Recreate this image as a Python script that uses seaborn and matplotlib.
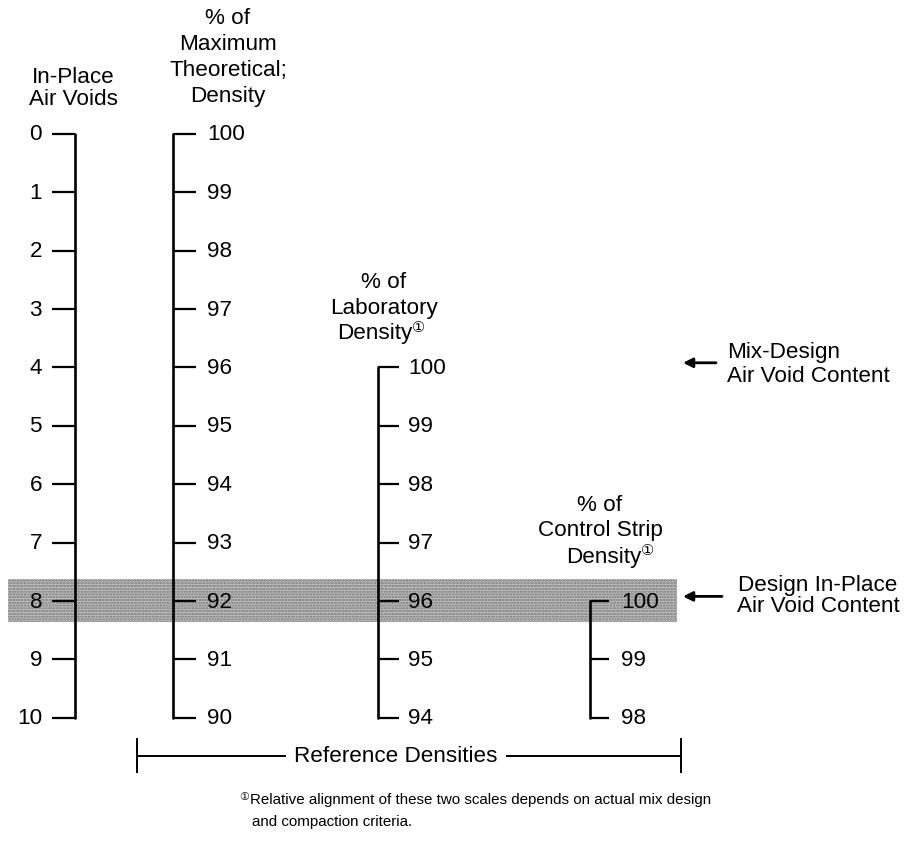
import matplotlib
matplotlib.use("Agg")
import matplotlib.pyplot as plt
import seaborn as sns
import pandas as pd

# scale values
air_voids = [0, 1, 2, 3, 4, 5, 6, 7, 8, 9, 10]
max_theoretical = [100, 99, 98, 97, 96, 95, 94, 93, 92, 91, 90]
laboratory = [100, 99, 98, 97, 96, 95, 94]
control_strip = [100, 99, 98]
mix_design_voids = 4
design_voids = 8

sns.set_theme(style="white")
plt.rcParams["font.family"] = ["Liberation Sans", "DejaVu Sans", "Noto Sans CJK JP"]
plt.rcParams["text.color"] = "black"
plt.rcParams["hatch.linewidth"] = 1.2

# every scale expressed as in-place air voids (y axis)
scales = pd.concat([
    pd.DataFrame({"scale": "air", "value": air_voids, "voids": air_voids}),
    pd.DataFrame({"scale": "mtd", "value": max_theoretical,
                  "voids": [100 - v for v in max_theoretical]}),
    pd.DataFrame({"scale": "lab", "value": laboratory,
                  "voids": [mix_design_voids + 100 - v for v in laboratory]}),
    pd.DataFrame({"scale": "strip", "value": control_strip,
                  "voids": [design_voids + 100 - v for v in control_strip]}),
])

# x layout: line, tick end, label x, label alignment
layout = {
    "air": (75, 52, 42, "right"),
    "mtd": (173, 196, 207, "left"),
    "lab": (378, 399, 408, "left"),
    "strip": (590, 609, 621, "left"),
}

fig = plt.figure(figsize=(9.05, 8.45), dpi=100)
ax = fig.add_axes([0, 0, 1, 1])
ax.set_xlim(0, 905)
ax.set_ylim(12.16, -2.31)
ax.axis("off")

FS = 16.2

# design in-place band
ax.axhspan(design_voids - 0.37, design_voids + 0.36, xmin=8 / 905, xmax=677 / 905,
           facecolor="#c8c8c8", edgecolor="#6e6e6e", hatch="......", lw=0, zorder=0)

for name, (xl, xt, xlab, ha) in layout.items():
    sub = scales[scales.scale == name].copy()
    sub["x"] = xl
    sns.lineplot(data=sub, x="x", y="voids", orient="y", estimator=None,
                 color="black", lw=1.9, ax=ax)
    ax.hlines(sub.voids, min(xl, xt), max(xl, xt), color="black", lw=1.6)
    for v, y in zip(sub.value, sub.voids):
        ax.text(xlab, y, str(v), ha=ha, va="center", fontsize=FS)

# headers
hdr = dict(ha="center", va="center", fontsize=FS)
ax.text(73, -0.99, "In-Place", **hdr)
ax.text(73, -0.60, "Air Voids", **hdr)
for y, s in zip([-1.99, -1.54, -1.11, -0.65], ["% of", "Maximum", "Theoretical;", "Density"]):
    ax.text(228, y, s, **hdr)
ax.text(384, mix_design_voids - 1.47, "% of", **hdr)
ax.text(384, mix_design_voids - 1.03, "Laboratory", **hdr)
ax.text(412, mix_design_voids - 0.60, "Density", ha="right", va="center", fontsize=FS)
ax.text(412, mix_design_voids - 0.70, "①", ha="left", va="center", fontsize=10.5)
ax.text(600, design_voids - 1.66, "% of", **hdr)
ax.text(600, design_voids - 1.23, "Control Strip", **hdr)
ax.text(641, design_voids - 0.77, "Density", ha="right", va="center", fontsize=FS)
ax.text(641, design_voids - 0.87, "①", ha="left", va="center", fontsize=10.5)

# arrows and notes
arrow = dict(arrowstyle="-|>", color="black", lw=2, mutation_scale=14, shrinkA=0, shrinkB=0)
ax.annotate("", xy=(683, mix_design_voids - 0.08), xytext=(716, mix_design_voids - 0.08),
            arrowprops=arrow)
ax.text(727, mix_design_voids - 0.28, "Mix-Design", ha="left", va="center", fontsize=FS)
ax.text(727, mix_design_voids + 0.14, "Air Void Content", ha="left", va="center", fontsize=FS)
ax.annotate("", xy=(683, design_voids - 0.08), xytext=(722, design_voids - 0.08),
            arrowprops=arrow)
ax.text(818, design_voids - 0.29, "Design In-Place", ha="center", va="center", fontsize=FS)
ax.text(818, design_voids + 0.08, "Air Void Content", ha="center", va="center", fontsize=FS)

# reference densities bracket
yb = 10.65
ax.hlines(yb, 137, 286, color="black", lw=1.4)
ax.hlines(yb, 506, 681, color="black", lw=1.4)
ax.vlines([137, 681], yb - 0.3, yb + 0.3, color="black", lw=1.4)
ax.text(396, yb, "Reference Densities", ha="center", va="center", fontsize=FS)

# footnote
ax.text(239, 11.33, "①", ha="left", va="center", fontsize=8)
ax.text(250, 11.39, "Relative alignment of these two scales depends on actual mix design",
        ha="left", va="center", fontsize=10.9)
ax.text(252, 11.76, "and compaction criteria.", ha="left", va="center", fontsize=10.9)

fig.savefig("out.png", dpi=100, facecolor="white")
